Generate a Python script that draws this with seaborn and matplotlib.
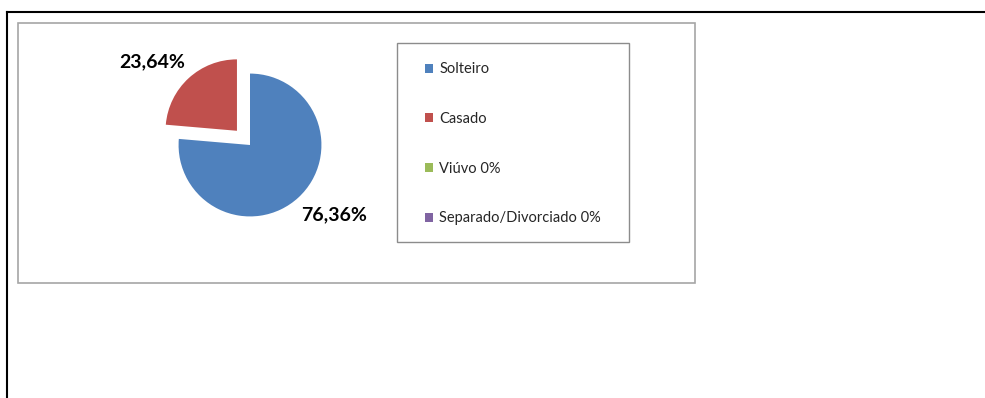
import matplotlib
matplotlib.use("Agg")
import matplotlib.pyplot as plt
from matplotlib.patches import Rectangle, Patch
from matplotlib.lines import Line2D
import seaborn as sns

categories = ["Solteiro", "Casado", "Viúvo", "Separado/Divorciado"]
values = [76.36, 23.64, 0.0, 0.0]
legend_labels = ["Solteiro", "Casado", "Viúvo 0%", "Separado/Divorciado 0%"]
value_labels = ["76,36%", "23,64%", "", ""]
explode = [0.0, 0.27, 0.0, 0.0]

sns.set_theme(style="white")
plt.rcParams["font.family"] = ["Lato", "DejaVu Sans"]
colors = ["#4F81BD", "#C0504D", "#9BBB59", "#8064A2"]

W, H = 985, 398
fig = plt.figure(figsize=(W / 100, H / 100), dpi=100)
fig.patch.set_facecolor("white")

def fx(px):
    return px / W

def fy(py):
    return 1 - py / H

# outer black border (top and left)
fig.add_artist(Line2D([fx(7), 1.0], [fy(12), fy(12)], color="black", lw=1.5,
                      transform=fig.transFigure, solid_capstyle="projecting"))
fig.add_artist(Line2D([fx(7), fx(7)], [fy(12), 0.0], color="black", lw=1.5,
                      transform=fig.transFigure, solid_capstyle="projecting"))

# chart area box
fig.add_artist(Rectangle((fx(18), fy(283)), fx(695) - fx(18), fy(23) - fy(283),
                         transform=fig.transFigure, facecolor="none",
                         edgecolor="#a6a6a6", lw=1.2))

# pie axes centered at (250,145), radius ~71.4px
ax = fig.add_axes([fx(150), fy(245), fx(200), fy(45) - fy(245)])
wedges, _ = ax.pie(values, colors=colors, startangle=90, counterclock=False,
                   explode=explode, radius=1.0,
                   wedgeprops=dict(linewidth=0))
ax.set_xlim(-1.4, 1.4)
ax.set_ylim(-1.4, 1.4)
ax.set_aspect("equal")
ax.axis("off")

label_pos = {0: (1.18, -0.98), 1: (-1.37, 1.16)}
for i, (x, y) in label_pos.items():
    ax.text(x, y, value_labels[i], ha="center", va="center", fontsize=14,
            fontweight="bold", color="black", clip_on=False)

# legend box
fig.add_artist(Rectangle((fx(397), fy(242)), fx(629) - fx(397), fy(43) - fy(242),
                         transform=fig.transFigure, facecolor="white",
                         edgecolor="#8c8c8c", lw=1.0))
handles = [Patch(facecolor=c, edgecolor="none") for c in colors]
leg = fig.legend(handles, legend_labels, loc="upper left",
                 bbox_to_anchor=(fx(418), fy(55)), bbox_transform=fig.transFigure,
                 frameon=False, fontsize=10.5, handlelength=0.55, handleheight=0.55,
                 handletextpad=0.4, labelspacing=2.45, borderpad=0.0)

fig.savefig("out.png", dpi=100, facecolor="white")
